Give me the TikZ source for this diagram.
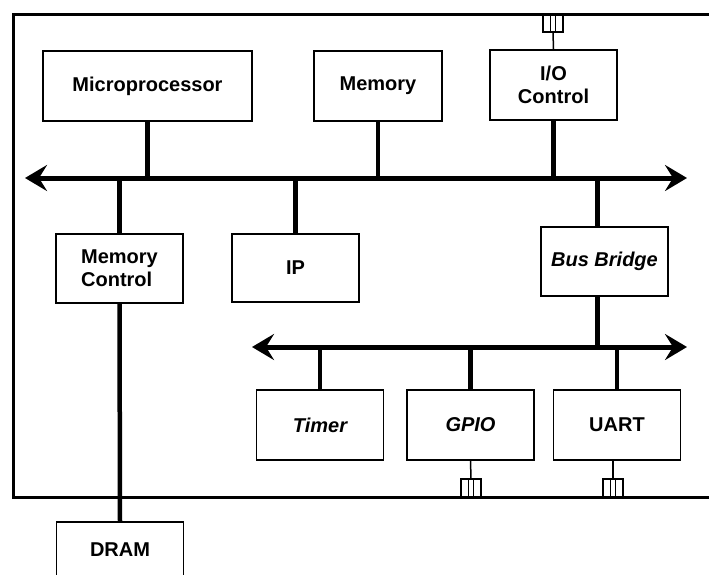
\documentclass[tikz,border=0pt]{standalone}
\usepackage{fontspec}
\setmainfont{Liberation Sans}
\usetikzlibrary{arrows.meta}

\begin{document}
\begin{tikzpicture}[x=1pt, y=-1pt,
    blk/.style={draw, line width=1.6pt, fill=white, minimum width=127pt, minimum height=70pt, inner sep=2pt, align=center, font=\fontsize{20}{23}\selectfont\bfseries},
    busline/.style={line width=5pt, {Stealth[length=22pt,width=26pt,inset=8pt]}-{Stealth[length=22pt,width=26pt,inset=8pt]}},
    link/.style={line width=4.5pt},
    wire/.style={line width=1.5pt},
    iopin/.style={draw, line width=1.4pt, minimum width=20pt, minimum height=18pt, inner sep=0pt,
        path picture={\draw[line width=1.2pt]
            ([xshift=-2.5pt]path picture bounding box.north) -- ([xshift=-2.5pt]path picture bounding box.south)
            ([xshift=2.5pt]path picture bounding box.north) -- ([xshift=2.5pt]path picture bounding box.south);}}]
    \useasboundingbox (0,0) rectangle (709,574);

    % Chip outline, right side runs off the page
    \draw[line width=3pt] (13,14) rectangle (740,497);

    % Blocks on the system bus
    \node[blk, minimum width=209pt] (cpu) at (147.5,86) {Microprocessor};
    \node[blk, minimum width=128pt] (mem) at (378,86) {Memory};
    \node[blk] (io) at (553.5,85) {I/O\\Control};
    \node[blk, align=left, minimum height=69pt] (mc) at (119.5,268.5) {Memory\\Control};
    \node[blk, minimum height=68pt] (ip) at (295.5,268) {IP};
    \node[blk, minimum height=69pt] (bb) at (604.5,261.5) {\itshape Bus Bridge};

    % Blocks on the peripheral bus
    \node[blk] (tmr) at (320,425) {\itshape Timer};
    \node[blk] (gpio) at (470.5,425) {\itshape GPIO};
    \node[blk] (uart) at (617,425) {UART};

    % Off-chip memory
    \node[blk, minimum height=56pt] (dram) at (120,550) {DRAM};

    % Pins on the chip edge
    \node[iopin] (pinT) at (553,23) {};
    \node[iopin] (pinG) at (471,488) {};
    \node[iopin] (pinU) at (613,488) {};

    % The two buses
    \coordinate (busAl) at (25,178);
    \coordinate (busAr) at (687,178);
    \coordinate (busBl) at (252,347);
    \coordinate (busBr) at (687,347);
    \draw[busline] (busAl) -- (busAr);
    \draw[busline] (busBl) -- (busBr);

    % Taps onto the buses
    \draw[link] (cpu.south) -- (cpu.south |- busAl);
    \draw[link] (mem.south) -- (mem.south |- busAl);
    \draw[link] (io.south) -- (io.south |- busAl);
    \draw[link] (mc.north) -- (mc.north |- busAl);
    \draw[link] (ip.north) -- (ip.north |- busAl);
    \draw[link] ([xshift=-7pt]bb.north) -- ([xshift=-7pt]bb.north |- busAl);
    \draw[link] ([xshift=-7pt]bb.south) -- ([xshift=-7pt]bb.south |- busBl);
    \draw[link] (tmr.north) -- (tmr.north |- busBl);
    \draw[link] (gpio.north) -- (gpio.north |- busBl);
    \draw[link] (uart.north) -- (uart.north |- busBl);
    \draw[link] (mc.south) -- (dram.north);

    % Thin wires out to the pins
    \draw[wire] (io.north) -- (pinT.south);
    \draw[wire] (gpio.south) -- (pinG.north);
    \draw[wire] (pinU.north) -- (pinU.north |- uart.south);
\end{tikzpicture}
\end{document}
